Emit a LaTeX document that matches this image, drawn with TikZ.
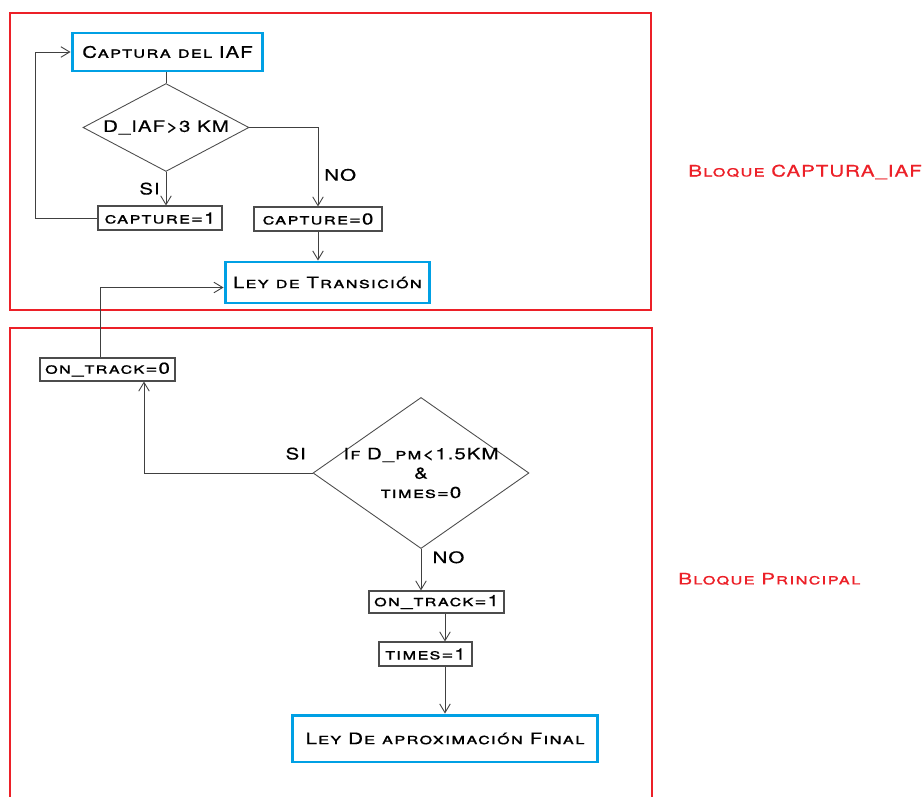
\documentclass[tikz,border=0pt]{standalone}
\usepackage{fontspec}
\setmainfont{TeX Gyre Heros}[FakeStretch=1.3,LetterSpace=6,FakeBold=0.4]
\usetikzlibrary{shapes.geometric,arrows.meta}

\definecolor{rojobloque}{RGB}{236,32,40}
\definecolor{azulley}{RGB}{0,160,228}

\tikzset{
  paso/.style={draw=black!70,line width=0.6pt,inner sep=0pt,font=\scshape\fontsize{9}{11}\selectfont},
  ley/.style={draw=azulley,line width=1.7pt,inner sep=0pt,font=\scshape\fontsize{9}{11}\selectfont},
  decision/.style={diamond,draw=black!70,line width=0.5pt,inner sep=0pt,font=\scshape\fontsize{9}{11}\selectfont},
  flecha/.style={-{Straight Barb[length=5pt,width=6pt]},draw=black!75,line width=0.5pt},
  rotulo/.style={font=\scshape\fontsize{9}{11}\selectfont},
  bloque/.style={draw=rojobloque,line width=1.1pt},
  etiqueta/.style={text=rojobloque,inner sep=0pt,anchor=west,font=\scshape\fontsize{9}{11}\selectfont}
}

\begin{document}
\begin{tikzpicture}[x=0.02cm,y=-0.02cm]
        \useasboundingbox (0,0) rectangle (922,797);

        \draw [bloque] (10,13) rectangle (651,310);
        \draw [bloque] (10,797) -- (10,328) -- (652,328) -- (652,797);
        \node (bcaptura) at (688,172) [etiqueta]{Bloque CAPTURA\_IAF};
        \node (bprincipal) at (678,579) [etiqueta]{Bloque Principal};

        \node (captura) at (167.5,52) [ley,minimum width=3.82cm,minimum height=0.76cm]{Captura del IAF};
        \node (diaf) at (166,127.5) [decision,aspect=1.71,minimum width=3.32cm]{D\_IAF>3 KM};
        \node (cap1) at (160,218) [paso,minimum width=2.48cm,minimum height=0.48cm]{capture=1};
        \node (cap0) at (318,219) [paso,minimum width=2.56cm,minimum height=0.48cm]{capture=0};
        \node (transicion) at (327.5,282.5) [ley,minimum width=4.1cm,minimum height=0.82cm]{Ley de Transición};

        \node (track0) at (107.5,369.5) [paso,minimum width=2.7cm,minimum height=0.46cm]{on\_track=0};
        \node (dpm) at (421,473) [decision,aspect=1.3,minimum width=4.32cm,align=center,inner sep=-3pt]{If D\_pm<1.5KM\\\&\\times=0};
        \node (track1) at (436.5,602) [paso,minimum width=2.7cm,minimum height=0.44cm]{on\_track=1};
        \node (times1) at (425.5,654) [paso,minimum width=1.86cm,minimum height=0.48cm]{times=1};
        \node (final) at (445,738.5) [ley,minimum width=6.12cm,minimum height=0.94cm]{Ley De aproximación Final};

        \draw [draw=black!75,line width=0.5pt](diaf.north |- captura.south) -- (diaf.north);
        \draw [flecha](diaf.south) -- (diaf.south |- cap1.north) node [midway,left,rotulo]{SI};
        \draw [flecha](cap1.west) -- ([xshift=-1.24cm]cap1.west) |- (captura.west);
        \draw [flecha](diaf.east) -| (cap0.north) node [pos=0.8,right,rotulo]{NO};
        \draw [flecha](cap0.south) -- (cap0.south |- transicion.north);

        \draw [flecha]([xshift=-0.15cm]track0.north) |- ([yshift=-0.1cm]transicion.west);
        \draw [flecha](dpm.west) -| ([xshift=0.73cm]track0.south) node [pos=0.05,above=4pt,rotulo]{SI};
        \draw [flecha](dpm.south) -- (dpm.south |- track1.north) node [pos=0.2,right=3pt,rotulo]{NO};
        \draw [flecha](track1.south -| final.north) -- (times1.north -| final.north);
        \draw [flecha](times1.south -| final.north) -- (final.north);

    \end{tikzpicture}
\end{document}
